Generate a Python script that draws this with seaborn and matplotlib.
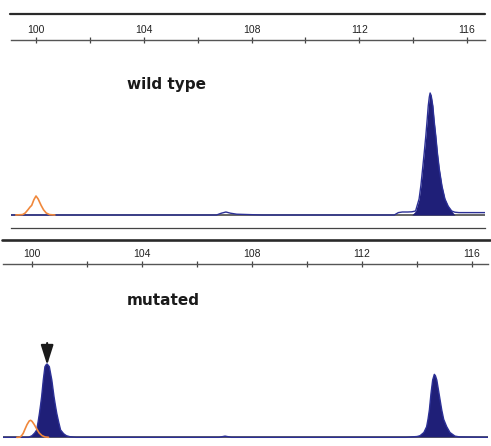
import matplotlib
matplotlib.use("Agg")
import matplotlib.pyplot as plt
import seaborn as sns
import numpy as np
from matplotlib.lines import Line2D

# ---------------- data (size in bp, signal in RFU) ----------------
size_ticks = [100, 104, 108, 112, 116]
size_minor = [102, 106, 110, 114]

# wild type panel - blue trace
wt_blue_x = [99.07, 106.70, 106.88, 107.05, 107.22, 107.45, 108.40, 113.30, 113.45,
             113.60, 113.80, 113.95, 114.09, 114.22, 114.29, 114.35, 114.41, 114.47,
             114.52, 114.56, 114.60, 114.63, 114.67, 114.73, 114.78, 114.84, 114.90,
             114.97, 115.07, 115.18, 115.30, 115.43, 115.55, 115.70, 116.67]
wt_blue_y = [0, 0, 45, 75, 45, 20, 0, 0, 60,
             75, 75, 80, 100, 400, 750, 1150, 1550, 1975,
             2380, 2725, 2950, 3050, 2980, 2725, 2350, 1975, 1550,
             1150, 720, 400, 220, 100, 70, 60, 60]
# wild type panel - orange size standard
wt_orange_x = [99.25, 99.50, 99.60, 99.70, 99.78, 99.84, 99.92, 100.00, 100.08,
               100.19, 100.28, 100.38, 100.50, 100.70]
wt_orange_y = [0, 10, 50, 130, 200, 240, 380, 475, 400,
               240, 130, 50, 10, 0]

# mutated panel - blue trace
mut_blue_x = [98.95, 99.87, 100.00, 100.10, 100.17, 100.22, 100.27, 100.31, 100.35,
              100.41, 100.47, 100.52, 100.55, 100.59, 100.63, 100.72, 100.80, 100.85,
              100.90, 100.97, 101.04, 101.15, 101.25, 101.38, 101.60, 106.80, 107.02,
              107.25, 113.60, 114.00, 114.11, 114.25, 114.35, 114.40, 114.45, 114.51,
              114.57, 114.63, 114.67, 114.72, 114.80, 114.90, 114.97, 115.08, 115.20,
              115.38, 115.55, 116.58]
mut_blue_y = [0, 0, 40, 110, 183, 380, 600, 800, 1015,
              1433, 1765, 1820, 1833, 1800, 1765, 1433, 1015, 800,
              600, 380, 183, 90, 40, 15, 0, 0, 30,
              0, 0, 20, 40, 120, 265, 450, 683, 1100,
              1433, 1575, 1540, 1433, 1100, 683, 450, 265, 120,
              30, 10, 0]
# mutated panel - orange size standard
mut_orange_x = [99.45, 99.56, 99.62, 99.68, 99.75, 99.82, 99.90, 99.95, 100.00,
                100.08, 100.17, 100.26, 100.36, 100.47, 100.60]
mut_orange_y = [0, 5, 40, 100, 212, 320, 410, 425, 400,
                320, 212, 110, 45, 10, 0]

# ---------------- styling ----------------
sns.set_style("white")
plt.rcParams["font.family"] = ["Liberation Sans", "DejaVu Sans"]

W, H = 491, 446
fig = plt.figure(figsize=(4.91, 4.46), dpi=100)


def fx(px):
    return px / W


def fy(py):
    return 1 - py / H


FILL = "#1f1f78"
LINE = "#2c3096"
ORANGE = "#f0883c"
BASE = "#4a4a4a"

ax1 = fig.add_axes([fx(11), fy(228), fx(485) - fx(11), (228 - 39.5) / H])
ax2 = fig.add_axes([fx(3), 0, fx(488) - fx(3), (446 - 263.5) / H])

panels = [
    (ax1, wt_blue_x, wt_blue_y, wt_orange_x, wt_orange_y, (99.072, 116.667), (-325, 4387), (114.0, 115.45)),
    (ax2, mut_blue_x, mut_blue_y, mut_orange_x, mut_orange_y, (98.945, 116.582), (-217, 4345), None),
]

for ax, bx, by, ox, oy, xl, yl, fill_rng in panels:
    ax.axhline(0, color=BASE, lw=1.2, zorder=1)
    bxa, bya = np.array(bx), np.array(by)
    if fill_rng is None:
        where = bya > 0
    else:
        where = (bxa >= fill_rng[0]) & (bxa <= fill_rng[1])
    ax.fill_between(bxa, 0, bya, where=where, color=FILL, lw=0, zorder=2, interpolate=True)
    sns.lineplot(x=bx, y=by, ax=ax, color=LINE, lw=1.0, estimator=None, sort=False, zorder=3)
    sns.lineplot(x=ox, y=oy, ax=ax, color=ORANGE, lw=1.2, estimator=None, sort=False, zorder=4)
    ax.set_xlim(*xl)
    ax.set_ylim(*yl)
    ax.set_xlabel("")
    ax.set_ylabel("")
    ax.set_yticks([])
    ax.xaxis.tick_top()
    ax.set_xticks(size_ticks)
    ax.set_xticks(size_minor, minor=True)
    ax.set_xticklabels([str(t) for t in size_ticks])
    ax.tick_params(axis="x", which="both", direction="inout", length=5, width=0.9,
                   color="#444444", pad=1, labelsize=7.5, labelcolor="#222222",
                   top=True, bottom=False, labeltop=True, labelbottom=False)
    for s in ["left", "right"]:
        ax.spines[s].set_visible(False)
    ax.spines["top"].set_color("#555555")
    ax.spines["top"].set_linewidth(1.0)
    ax.patch.set_alpha(0)

ax1.spines["bottom"].set_color("#444444")
ax1.spines["bottom"].set_linewidth(0.9)
ax2.spines["bottom"].set_visible(False)

# arrow marking the mutated peak
ax2.annotate("", xy=(100.55, 1808), xytext=(100.55, 2357),
             arrowprops=dict(arrowstyle="-|>,head_length=1.2,head_width=0.38",
                             lw=1.5, color="#1a1a1a", shrinkA=0, shrinkB=0))

# panel labels
fig.text(fx(127), fy(89), "wild type", fontsize=11, fontweight="bold",
         family="DejaVu Sans", va="baseline", ha="left", color="#1a1a1a")
fig.text(fx(127), fy(305), "mutated", fontsize=11, fontweight="bold",
         family="DejaVu Sans", va="baseline", ha="left", color="#1a1a1a")

# thick frame lines above each panel
fig.add_artist(Line2D([fx(10), fx(485)], [fy(13.5)] * 2, lw=1.6, color="#2a2a2a"))
fig.add_artist(Line2D([fx(2), fx(490)], [fy(239.5)] * 2, lw=1.9, color="#2a2a2a"))

fig.savefig("out.png", dpi=100, facecolor="white")
